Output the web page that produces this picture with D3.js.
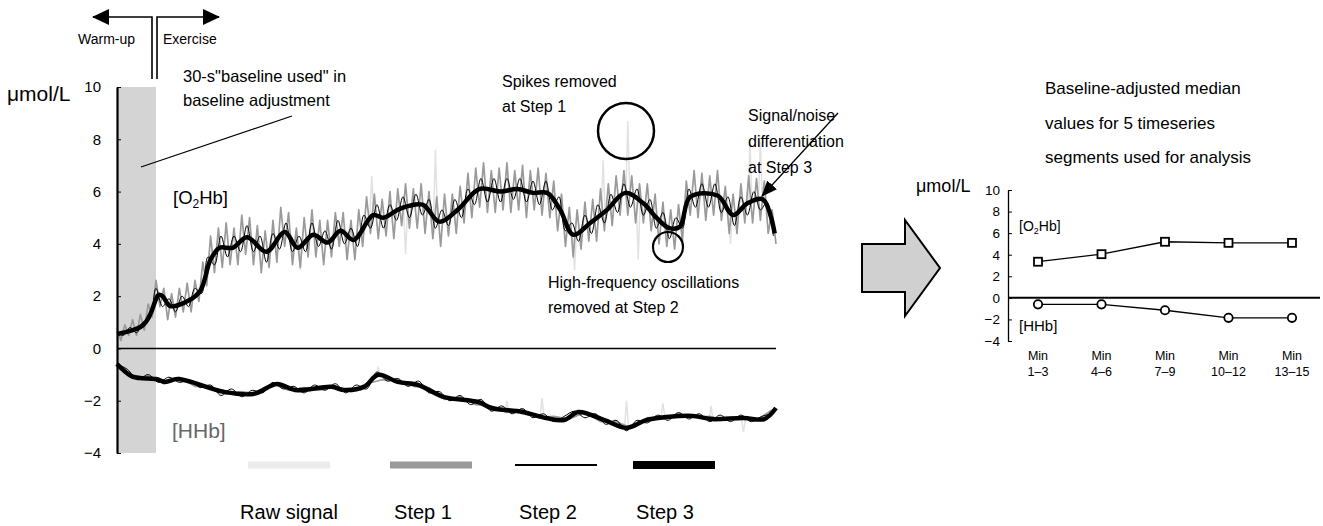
<!DOCTYPE html>
<html>
<head>
<meta charset="utf-8">
<script src="https://cdn.jsdelivr.net/npm/d3@7"></script>
<style>
  body { margin: 0; background: #fff; }
  text { font-family: "Liberation Sans", Arial, sans-serif; }
</style>
</head>
<body>
<script>
// ---- data ----
// main chart: time in s (warm-up baseline = first 30 s)
var baselineWindow = [0, 30];

// step 3 (smoothed signal) as [time, value]
var o2Step3 = [[0,0.55],[12,0.7],[18,0.82],[22,1.0],[26,1.35],[29,1.75],[32,2.05],[35,2.0],[41,1.62],[54,1.8],[64,2.2],
  [72,3.4],[79,3.85],[89,3.85],[100,4.25],[115,3.7],[129,4.45],[139,3.85],[151,4.35],[162,4.05],[172,4.5],
  [182,4.15],[197,5.1],[205,5.0],[218,5.35],[235,5.5],[248,4.85],[262,5.3],[279,6.1],[295,6.0],[308,6.1],
  [320,5.95],[331,5.95],[341,5.3],[351,4.35],[364,4.8],[377,5.3],[391,5.95],[405,5.55],[415,5.0],[425,4.6],
  [433,4.65],[441,5.8],[462,5.85],[474,5.1],[485,5.55],[497,5.7],[506,4.4]];
var hhbStep3 = [[0,-0.6],[2,-0.7],[12,-1.08],[30,-1.17],[37,-1.28],[47,-1.17],[82,-1.66],[105,-1.74],[123,-1.36],
  [137,-1.59],[165,-1.47],[175,-1.59],[190,-1.47],[201,-1.01],[216,-1.28],[232,-1.4],[251,-1.85],[278,-2.05],
  [288,-2.28],[312,-2.43],[330,-2.66],[344,-2.74],[355,-2.43],[375,-2.74],[392,-3.04],[407,-2.74],[423,-2.62],
  [443,-2.58],[457,-2.7],[482,-2.66],[498,-2.7],[507,-2.28]];

// step 2 (spikes + high-frequency removed), sampled every 5 s (O2Hb) / 8 s (HHb)
var o2Step2 = [0.6,0.5,0.8,0.6,1.0,1.1,2.3,1.6,1.9,1.4,
  2.0,1.6,2.3,2.1,3.5,3.2,4.3,3.5,4.3,3.7,
  4.7,3.7,4.3,3.3,4.4,3.8,4.8,3.7,4.3,3.7,
  4.8,3.9,4.5,3.8,4.9,4.0,4.6,3.9,5.1,4.6,
  5.5,4.6,5.5,4.9,5.8,5.0,5.9,5.1,5.7,4.6,
  5.3,4.7,5.7,5.0,6.1,5.5,6.5,5.6,6.5,5.6,
  6.5,5.7,6.5,5.6,6.4,5.5,6.4,5.3,5.8,4.5,
  4.8,4.1,5.1,4.4,5.5,4.8,5.9,5.2,6.3,5.4,
  6.1,5.1,5.7,4.6,5.2,4.2,5.0,4.6,6.1,5.4,
  6.3,5.4,6.3,5.2,5.8,4.7,5.8,5.1,6.0,5.3,
  5.6,4.3];
var hhbStep2 = [-0.6,-0.8,-1.2,-1.0,-1.3,-1.1,-1.3,-1.2,-1.5,-1.4,
  -1.8,-1.55,-1.85,-1.6,-1.7,-1.3,-1.55,-1.45,-1.7,-1.4,
  -1.6,-1.35,-1.7,-1.4,-1.55,-0.9,-1.25,-1.15,-1.45,-1.25,
  -1.7,-1.65,-2.0,-1.8,-2.15,-1.95,-2.4,-2.2,-2.5,-2.3,
  -2.65,-2.5,-2.8,-2.6,-2.4,-2.65,-2.5,-2.9,-2.75,-3.15,
  -2.75,-2.85,-2.55,-2.75,-2.45,-2.7,-2.5,-2.8,-2.55,-2.8,
  -2.55,-2.8,-2.6,-2.5];

// step 1 (spikes removed), sampled every 3 s (O2Hb) / 12 s (HHb)
var o2Step1 = [0.8,0.3,0.9,0.5,1.1,0.5,1.3,0.7,1.7,1.2,
  2.6,1.6,2.3,1.1,2.1,1.2,2.3,1.4,2.5,1.4,
  2.6,1.8,3.3,2.4,4.3,2.9,4.6,3.1,4.8,3.2,
  4.6,3.2,5.1,3.6,5.0,3.2,4.7,2.9,4.5,3.1,
  4.9,3.3,5.4,3.9,5.2,3.2,4.6,3.1,5.0,3.5,
  5.3,3.5,4.9,3.2,4.9,3.5,5.2,3.9,5.2,3.4,
  4.9,3.4,5.3,3.9,5.8,4.4,5.9,4.2,5.7,4.3,
  6.0,4.2,6.1,4.7,6.3,4.6,6.1,4.6,6.3,4.4,
  6.0,4.2,5.8,3.9,5.9,4.3,5.9,4.4,6.2,4.8,
  6.7,5.0,6.9,5.4,7.1,5.2,6.8,5.2,6.9,5.3,
  7.1,5.2,6.8,5.3,7.0,5.0,6.8,5.3,6.9,5.1,
  6.7,5.0,6.4,4.5,5.9,3.9,5.4,3.5,5.3,3.8,
  5.6,4.1,5.7,4.1,6.1,4.5,6.3,4.7,6.6,5.1,
  6.8,5.1,6.6,4.8,6.3,4.8,6.3,4.5,5.9,4.0,
  5.6,3.9,5.3,3.8,5.5,4.1,6.4,5.1,6.8,5.0,
  6.7,4.9,6.6,5.1,6.8,4.9,6.2,4.4,5.9,4.4,
  6.3,4.8,6.6,4.8,6.5,4.9,6.4,4.4,5.3,4.0];
var hhbStep1 = [-0.55,-1.15,-1.05,-1.35,-1.1,-1.45,-1.45,-1.75,-1.65,-1.75,
  -1.35,-1.6,-1.5,-1.6,-1.45,-1.65,-1.35,-1.2,-1.2,-1.45,
  -1.5,-1.95,-1.85,-2.15,-2.2,-2.45,-2.35,-2.65,-2.6,-2.7,
  -2.45,-2.8,-2.8,-3.05,-2.65,-2.7,-2.5,-2.65,-2.6,-2.75,
  -2.6,-2.75,-2.35];

// raw signal: the spikes that stand out of the filtered band, [time, level, tip]
var o2RawSpikes = [[141,3.9,3.0],[196,5.0,6.6],[222,5.3,3.6],[245,5.0,7.6],[352,4.4,3.0],[374,5.2,7.2],
  [393,5.9,8.7],[401,5.6,3.4],[472,5.3,4.0],[487,5.5,8.0],[495,5.7,7.9]];
var hhbRawSpikes = [[201,-1.1,-0.7],[300,-2.4,-2.0],[327,-2.6,-1.9],[392,-3.0,-2.0],[420,-2.6,-2.1],
  [457,-2.7,-2.2],[482,-2.7,-3.2]];

var yTicks = [-4, -2, 0, 2, 4, 6, 8, 10];

// right chart: baseline-adjusted medians
var segments = ["1\u20133", "4\u20136", "7\u20139", "10\u201312", "13\u201315"];
var segO2 = [3.35, 4.05, 5.2, 5.1, 5.1];
var segHHb = [-0.6, -0.6, -1.15, -1.85, -1.85];

var legendLabels = ["Raw signal", "Step 1", "Step 2", "Step 3"];

// ---- styles / layout ----
var style = {
  raw:   {stroke: "#e2e2e2", width: 1.5},
  step1: {stroke: "#9a9a9a", width: 1.7},
  step2: {stroke: "#000", width: 1},
  step3: {stroke: "#000", width: 4.5}
};
var legendStyle = [
  {fill: "#ececec", h: 7, bx: 289, tx: 289},
  {fill: "#999", h: 7, bx: 431, tx: 423},
  {fill: "#000", h: 2, bx: 556, tx: 548},
  {fill: "#000", h: 8, bx: 674, tx: 665}
];

var svg = d3.select("body").append("svg")
  .attr("width", 1323).attr("height", 526);

var defs = svg.append("defs");
defs.append("marker").attr("id", "bighead")
  .attr("viewBox", "0 0 17 16").attr("refX", 16).attr("refY", 8)
  .attr("markerWidth", 17).attr("markerHeight", 16)
  .attr("markerUnits", "userSpaceOnUse").attr("orient", "auto")
  .append("path").attr("d", "M0,0L17,8L0,16z").attr("fill", "#000");
defs.append("marker").attr("id", "head")
  .attr("viewBox", "0 0 16 13").attr("refX", 15).attr("refY", 6.5)
  .attr("markerWidth", 16).attr("markerHeight", 13)
  .attr("markerUnits", "userSpaceOnUse").attr("orient", "auto")
  .append("path").attr("d", "M0,0L16,6.5L0,13z").attr("fill", "#000");

// ---- main chart ----
var x = d3.scaleLinear().domain([0, 507]).range([117, 776]);
var y = d3.scaleLinear().domain([-4, 10]).range([453, 87]);

var main = svg.append("g");

main.append("rect")
  .attr("x", x(baselineWindow[0]))
  .attr("y", y(10))
  .attr("width", x(baselineWindow[1]) - x(baselineWindow[0]))
  .attr("height", y(-4) - y(10))
  .attr("fill", "#d4d4d4");

var line = d3.line().x(function(d) { return x(d[0]); }).y(function(d) { return y(d[1]); });
function sampled(vals, step) { return vals.map(function(v, i) { return [i * step, v]; }); }

function drawLine(data, st, curve) {
  main.append("path")
    .datum(data)
    .attr("fill", "none")
    .attr("stroke", st.stroke)
    .attr("stroke-width", st.width)
    .attr("stroke-linejoin", "round")
    .attr("d", line.curve(curve || d3.curveLinear));
}

// raw spikes
main.selectAll(".spike").data(o2RawSpikes.concat(hhbRawSpikes)).enter().append("path")
  .attr("fill", "none").attr("stroke", style.raw.stroke).attr("stroke-width", style.raw.width)
  .attr("d", function(d) {
    return line.curve(d3.curveLinear)([[d[0] - 1.5, d[1]], [d[0], d[2]], [d[0] + 1.5, d[1]]]);
  });

drawLine(sampled(o2Step1, 3), style.step1);
drawLine(sampled(hhbStep1, 12), style.step1);
drawLine(sampled(o2Step2, 5), style.step2, d3.curveCatmullRom);
drawLine(sampled(hhbStep2, 8), style.step2, d3.curveCatmullRom);
drawLine(o2Step3, style.step3, d3.curveCatmullRom);
drawLine(hhbStep3, style.step3, d3.curveCatmullRom);

// zero line
main.append("line")
  .attr("x1", x(0)).attr("x2", x(507))
  .attr("y1", y(0)).attr("y2", y(0))
  .attr("stroke", "#000").attr("stroke-width", 1.6);

var yAxis = main.append("g")
  .attr("transform", "translate(" + x(0) + ",0)")
  .call(d3.axisLeft(y).tickValues(yTicks).tickSize(-4).tickSizeOuter(0).tickPadding(16));
yAxis.select(".domain").attr("stroke-width", 2.2);
yAxis.selectAll("text").attr("font-size", 15).attr("font-family", "Liberation Sans, Arial, sans-serif").attr("fill", "#000");

main.append("text").attr("x", 7).attr("y", 101).attr("font-size", 21).text("\u03bcmol/L");

// warm-up / exercise arrows
main.append("path").attr("d", "M152,79V17H93").attr("fill", "none").attr("stroke", "#000")
  .attr("stroke-width", 1.6).attr("marker-end", "url(#bighead)");
main.append("path").attr("d", "M157,79V17H219").attr("fill", "none").attr("stroke", "#000")
  .attr("stroke-width", 1.6).attr("marker-end", "url(#bighead)");
main.append("text").attr("x", 78).attr("y", 44).attr("font-size", 14).text("Warm-up");
main.append("text").attr("x", 163).attr("y", 44).attr("font-size", 14).text("Exercise");

// baseline annotation
main.append("text").attr("x", 183).attr("y", 82).attr("font-size", 16.5).text("30-s\"baseline used\" in");
main.append("text").attr("x", 183).attr("y", 106).attr("font-size", 16.5).text("baseline adjustment");
main.append("line").attr("x1", 141).attr("y1", 167).attr("x2", 292).attr("y2", 116)
  .attr("stroke", "#000").attr("stroke-width", 1.3);

// series labels
var o2Lab = main.append("text").attr("x", 173).attr("y", 204).attr("font-size", 18.5);
o2Lab.append("tspan").text("[O");
o2Lab.append("tspan").attr("font-size", 12).attr("dy", 4).text("2");
o2Lab.append("tspan").attr("dy", -4).text("Hb]");
main.append("text").attr("x", 172).attr("y", 438).attr("font-size", 21).attr("fill", "#666").text("[HHb]");

// step annotations
main.append("text").attr("x", 502).attr("y", 87).attr("font-size", 16).text("Spikes removed");
main.append("text").attr("x", 502).attr("y", 112).attr("font-size", 16).text("at Step 1");
main.append("circle").attr("cx", 626).attr("cy", 131).attr("r", 28)
  .attr("fill", "none").attr("stroke", "#000").attr("stroke-width", 2.5);
main.append("circle").attr("cx", 668).attr("cy", 247).attr("r", 15)
  .attr("fill", "none").attr("stroke", "#000").attr("stroke-width", 2.2);
main.append("text").attr("x", 548).attr("y", 288).attr("font-size", 16).text("High-frequency oscillations");
main.append("text").attr("x", 548).attr("y", 313).attr("font-size", 16).text("removed at Step 2");
main.append("text").attr("x", 748).attr("y", 121).attr("font-size", 16).text("Signal/noise");
main.append("text").attr("x", 748).attr("y", 147).attr("font-size", 16).text("differentiation");
main.append("text").attr("x", 748).attr("y", 173).attr("font-size", 16).text("at Step 3");
main.append("line").attr("x1", 838).attr("y1", 113).attr("x2", 762).attr("y2", 196)
  .attr("stroke", "#000").attr("stroke-width", 1.3).attr("marker-end", "url(#head)");

// legend
var leg = svg.append("g").selectAll("g").data(legendLabels).enter().append("g");
leg.append("rect")
  .attr("x", function(d, i) { return legendStyle[i].bx - 41; }).attr("width", 82)
  .attr("y", function(d, i) { return 465 - legendStyle[i].h / 2; })
  .attr("height", function(d, i) { return legendStyle[i].h; })
  .attr("fill", function(d, i) { return legendStyle[i].fill; });
leg.append("text").attr("y", 519).attr("text-anchor", "middle").attr("font-size", 20)
  .attr("x", function(d, i) { return legendStyle[i].tx; })
  .text(function(d) { return d; });

// ---- big arrow ----
svg.append("polygon")
  .attr("points", "862,244 905,244 905,220 940,268 905,316 905,292 862,292")
  .attr("fill", "#d0d0d0").attr("stroke", "#000").attr("stroke-width", 2);

// ---- right chart ----
var xR = d3.scalePoint().domain(segments).range([1038, 1292]);
var yR = d3.scaleLinear().domain([-4, 10]).range([341, 190]);
var right = svg.append("g");

right.append("line").attr("x1", 1008).attr("x2", 1320).attr("y1", yR(0)).attr("y2", yR(0))
  .attr("stroke", "#000").attr("stroke-width", 2);

var yAxisR = right.append("g").attr("transform", "translate(1008,0)")
  .call(d3.axisLeft(yR).tickValues(yTicks).tickSize(-4).tickSizeOuter(0).tickPadding(8));
yAxisR.select(".domain").attr("stroke-width", 1.3);
yAxisR.selectAll("text").attr("font-size", 13.5).attr("font-family", "Liberation Sans, Arial, sans-serif").attr("fill", "#000");

var lineR = d3.line().x(function(d, i) { return xR(segments[i]); }).y(function(d) { return yR(d); });
right.append("path").datum(segO2).attr("d", lineR).attr("fill", "none").attr("stroke", "#000").attr("stroke-width", 1.3);
right.append("path").datum(segHHb).attr("d", lineR).attr("fill", "none").attr("stroke", "#000").attr("stroke-width", 1.3);

right.selectAll(".sq").data(segO2).enter().append("rect")
  .attr("x", function(d, i) { return xR(segments[i]) - 4; })
  .attr("y", function(d) { return yR(d) - 4; })
  .attr("width", 8).attr("height", 8)
  .attr("fill", "#fff").attr("stroke", "#000").attr("stroke-width", 1.8);
right.selectAll(".ci").data(segHHb).enter().append("circle")
  .attr("cx", function(d, i) { return xR(segments[i]); })
  .attr("cy", function(d) { return yR(d); })
  .attr("r", 4.2)
  .attr("fill", "#fff").attr("stroke", "#000").attr("stroke-width", 1.8);

var cats = right.selectAll(".cat").data(segments).enter().append("text")
  .attr("text-anchor", "middle").attr("font-size", 12.5)
  .attr("x", function(d) { return xR(d); });
cats.append("tspan").attr("y", 360).text("Min");
cats.append("tspan").attr("x", function(d) { return xR(d); }).attr("y", 376).text(function(d) { return d; });

right.append("text").attr("x", 916).attr("y", 192).attr("font-size", 18).text("\u03bcmol/L");
var o2R = right.append("text").attr("x", 1019).attr("y", 231).attr("font-size", 14);
o2R.append("tspan").text("[O");
o2R.append("tspan").attr("font-size", 9).attr("dy", 3).text("2");
o2R.append("tspan").attr("dy", -3).text("Hb]");
right.append("text").attr("x", 1019).attr("y", 331).attr("font-size", 15).text("[HHb]");

right.append("text").attr("x", 1045).attr("y", 94).attr("font-size", 17).text("Baseline-adjusted median");
right.append("text").attr("x", 1045).attr("y", 129).attr("font-size", 17).text("values for 5 timeseries");
right.append("text").attr("x", 1045).attr("y", 163).attr("font-size", 17).text("segments used for analysis");
</script>
</body>
</html>
